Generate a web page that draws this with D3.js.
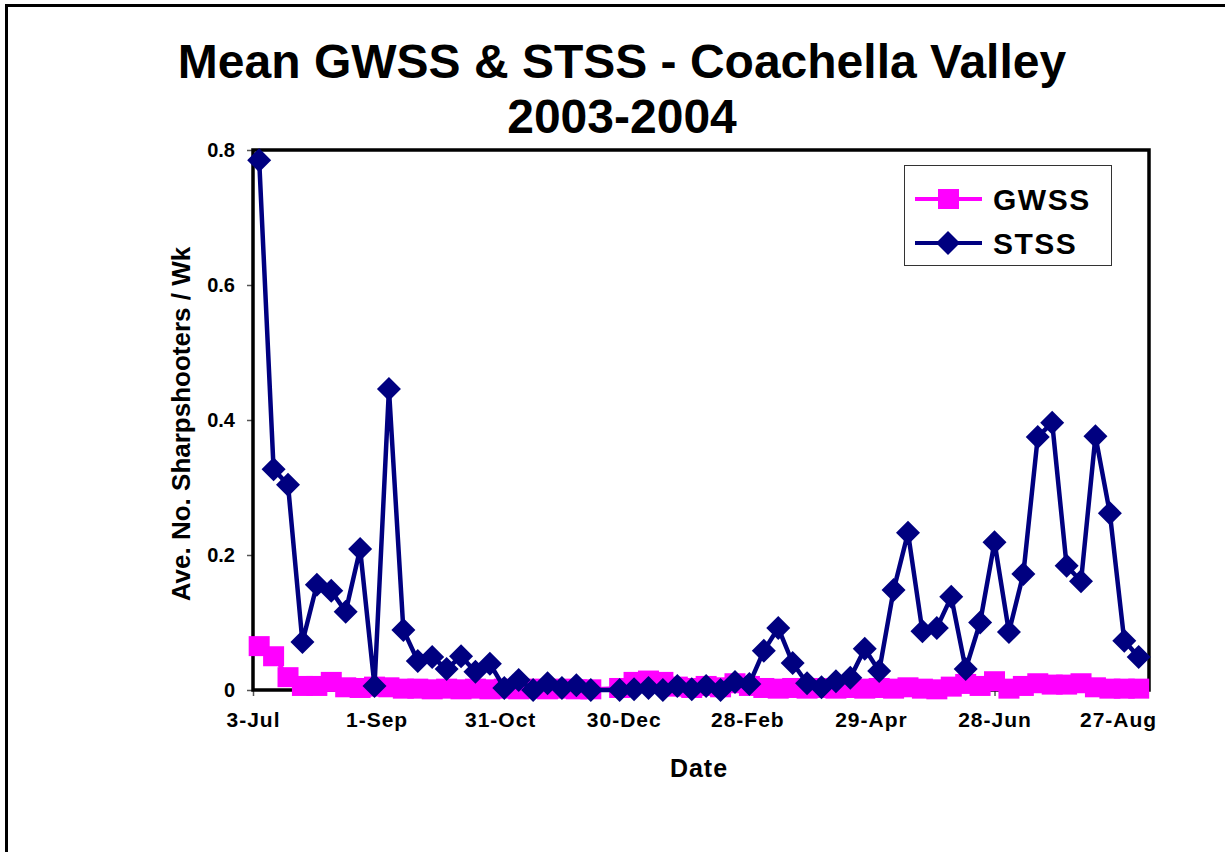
<!DOCTYPE html>
<html>
  <head>
    <meta charset="utf-8"/>
    <script type="text/javascript" src="https://cdnjs.cloudflare.com/ajax/libs/d3/7.8.5/d3.min.js"></script>
    <style type="text/css">

html, body {
  margin: 0;
  padding: 0;
  background: #fff;
}

svg {
  display: block;
  font-family: "Liberation Sans", Arial, sans-serif;
  font-weight: bold;
}

    </style>
  </head>
  <body>
    <div id="chart"></div>
    <script type="text/javascript">

// Sample dates, as days after 3-Jul (one week is missing around New Year)
var sampleDays = [3, 10, 17, 24, 31, 38, 45, 52, 59, 66, 73, 80, 87, 94, 101, 108,
  115, 122, 129, 136, 143, 150, 157, 164,
  178, 185, 192, 199, 206, 213, 220, 227, 234, 241, 248, 255, 262, 269, 276, 283,
  290, 297, 304, 311, 318, 325, 332, 339, 346, 353, 360, 367, 374, 381, 388, 395,
  402, 409, 416, 423, 430];

var stss = [0.785, 0.327, 0.304, 0.071, 0.156, 0.147, 0.116, 0.209, 0.006, 0.446,
  0.089, 0.043, 0.049, 0.031, 0.050, 0.027, 0.039, 0.003, 0.015, 0.000, 0.010,
  0.003, 0.007, 0.000,
  0.000, 0.001, 0.003, 0.000, 0.006, 0.001, 0.006, 0.000, 0.012, 0.009, 0.058,
  0.092, 0.040, 0.010, 0.004, 0.013, 0.018, 0.061, 0.028, 0.148, 0.233, 0.087,
  0.092, 0.138, 0.031, 0.100, 0.219, 0.086, 0.172, 0.375, 0.396, 0.184, 0.161,
  0.376, 0.262, 0.073, 0.049];

var gwss = [0.065, 0.050, 0.019, 0.006, 0.006, 0.012, 0.004, 0.003, 0.005, 0.004,
  0.002, 0.002, 0.001, 0.002, 0.001, 0.002, 0.001, 0.002, 0.001, 0.002, 0.001,
  0.002, 0.001, 0.001,
  0.003, 0.012, 0.014, 0.012, 0.005, 0.003, 0.006, 0.004, 0.010, 0.006, 0.003,
  0.002, 0.003, 0.002, 0.003, 0.002, 0.003, 0.002, 0.003, 0.002, 0.004, 0.002,
  0.001, 0.005, 0.009, 0.006, 0.013, 0.002, 0.006, 0.010, 0.008, 0.008, 0.010,
  0.004, 0.002, 0.002, 0.002];

var xTickDays = [0, 60, 120, 180, 240, 300, 360, 420];
var xTickLabels = ["3-Jul", "1-Sep", "31-Oct", "30-Dec", "28-Feb", "29-Apr", "28-Jun", "27-Aug"];
var yTicks = [0, 0.2, 0.4, 0.6, 0.8];

var seriesNames = ["GWSS", "STSS"];
var seriesColors = ["#ff00ff", "#000080"];

var width = 1225, height = 852;
var plot = {left: 253, right: 1149, top: 150, bottom: 690};

var svg = d3.select("#chart").append("svg")
    .attr("width", width)
    .attr("height", height);

svg.append("rect")
    .attr("width", width)
    .attr("height", height)
    .attr("fill", "#fff");

// outer chart border (runs off the right and bottom edges)
svg.append("rect")
    .attr("x", 6.5)
    .attr("y", 5.5)
    .attr("width", width + 20)
    .attr("height", height + 20)
    .attr("fill", "none")
    .attr("stroke", "#000")
    .attr("stroke-width", 3);

var x = d3.scaleLinear().domain([0, 435]).range([plot.left, plot.right]);
var y = d3.scaleLinear().domain([0, 0.8]).range([plot.bottom, plot.top]);

// title
svg.append("text")
    .attr("x", 622)
    .attr("y", 78)
    .attr("text-anchor", "middle")
    .attr("font-size", 48)
    .text("Mean GWSS & STSS - Coachella Valley");

svg.append("text")
    .attr("x", 622)
    .attr("y", 133)
    .attr("text-anchor", "middle")
    .attr("font-size", 48)
    .text("2003-2004");

// axes
var yAxis = d3.axisLeft(y)
    .tickValues(yTicks)
    .tickSize(6)
    .tickPadding(12)
    .tickFormat(function(d) { return d === 0 ? "0" : d3.format(".1f")(d); });

var gy = svg.append("g")
    .attr("transform", "translate(" + plot.left + ",0)")
    .call(yAxis);

var xAxis = d3.axisBottom(x)
    .tickValues(xTickDays)
    .tickSize(6)
    .tickPadding(16)
    .tickFormat(function(d, i) { return xTickLabels[i]; });

var gx = svg.append("g")
    .attr("transform", "translate(0," + plot.bottom + ")")
    .call(xAxis);

svg.selectAll(".domain").remove();
svg.selectAll(".tick line").attr("stroke", "#555").attr("stroke-width", 1.5);
gy.selectAll(".tick text")
    .attr("font-size", 20)
    .attr("font-family", "Liberation Sans, Arial, sans-serif")
    .attr("font-weight", "bold")
    .attr("fill", "#000");
gx.selectAll(".tick text")
    .attr("font-size", 21)
    .attr("font-family", "Liberation Sans, Arial, sans-serif")
    .attr("font-weight", "bold")
    .attr("letter-spacing", 1)
    .attr("fill", "#000");

// axis titles
svg.append("text")
    .attr("x", 699)
    .attr("y", 777)
    .attr("text-anchor", "middle")
    .attr("font-size", 25)
    .attr("letter-spacing", 1)
    .text("Date");

svg.append("text")
    .attr("transform", "translate(190,424) rotate(-90)")
    .attr("text-anchor", "middle")
    .attr("font-size", 26)
    .text("Ave. No. Sharpshooters / Wk");

// plot frame, drawn under the marks
svg.append("rect")
    .attr("x", plot.left)
    .attr("y", plot.top)
    .attr("width", plot.right - plot.left)
    .attr("height", plot.bottom - plot.top)
    .attr("fill", "none")
    .attr("stroke", "#000")
    .attr("stroke-width", 3.5);

// data
var gwssData = sampleDays.map(function(d, i) { return {day: d, value: gwss[i]}; });
var stssData = sampleDays.map(function(d, i) { return {day: d, value: stss[i]}; });

var line = d3.line()
    .x(function(d) { return x(d.day); })
    .y(function(d) { return y(d.value); });

svg.append("path")
    .datum(gwssData)
    .attr("d", line)
    .attr("fill", "none")
    .attr("stroke", seriesColors[0])
    .attr("stroke-width", 4);

svg.selectAll(".gwss")
    .data(gwssData)
  .enter().append("rect")
    .attr("class", "gwss")
    .attr("x", function(d) { return x(d.day) - 10.5; })
    .attr("y", function(d) { return y(d.value) - 10; })
    .attr("width", 21)
    .attr("height", 20)
    .attr("fill", seriesColors[0]);

svg.append("path")
    .datum(stssData)
    .attr("d", line)
    .attr("fill", "none")
    .attr("stroke", seriesColors[1])
    .attr("stroke-width", 4.5)
    .attr("stroke-linejoin", "round");

var diamond = d3.symbol().type(d3.symbolSquare).size(288);

svg.selectAll(".stss")
    .data(stssData)
  .enter().append("path")
    .attr("class", "stss")
    .attr("d", diamond)
    .attr("transform", function(d) {
      return "translate(" + x(d.day) + "," + y(d.value) + ") rotate(45)";
    })
    .attr("fill", seriesColors[1]);

// legend
var legend = svg.append("g")
    .attr("transform", "translate(904,165)");

legend.append("rect")
    .attr("x", 0.5)
    .attr("y", 0.5)
    .attr("width", 207)
    .attr("height", 100)
    .attr("fill", "#fff")
    .attr("stroke", "#333")
    .attr("stroke-width", 1);

var item = legend.selectAll(".item")
    .data(seriesNames)
  .enter().append("g")
    .attr("class", "item")
    .attr("transform", function(d, i) { return "translate(0," + (34 + i * 44) + ")"; });

item.append("line")
    .attr("x1", 11)
    .attr("x2", 78)
    .attr("stroke", function(d, i) { return seriesColors[i]; })
    .attr("stroke-width", 4);

item.filter(function(d, i) { return i === 0; }).append("rect")
    .attr("x", 34)
    .attr("y", -10)
    .attr("width", 21)
    .attr("height", 20)
    .attr("fill", seriesColors[0]);

item.filter(function(d, i) { return i === 1; }).append("path")
    .attr("d", diamond)
    .attr("transform", "translate(44,0) rotate(45)")
    .attr("fill", seriesColors[1]);

item.append("text")
    .attr("x", 89)
    .attr("y", 11)
    .attr("font-size", 30)
    .attr("letter-spacing", 1.5)
    .text(function(d) { return d; });

    </script>
  </body>
</html>
